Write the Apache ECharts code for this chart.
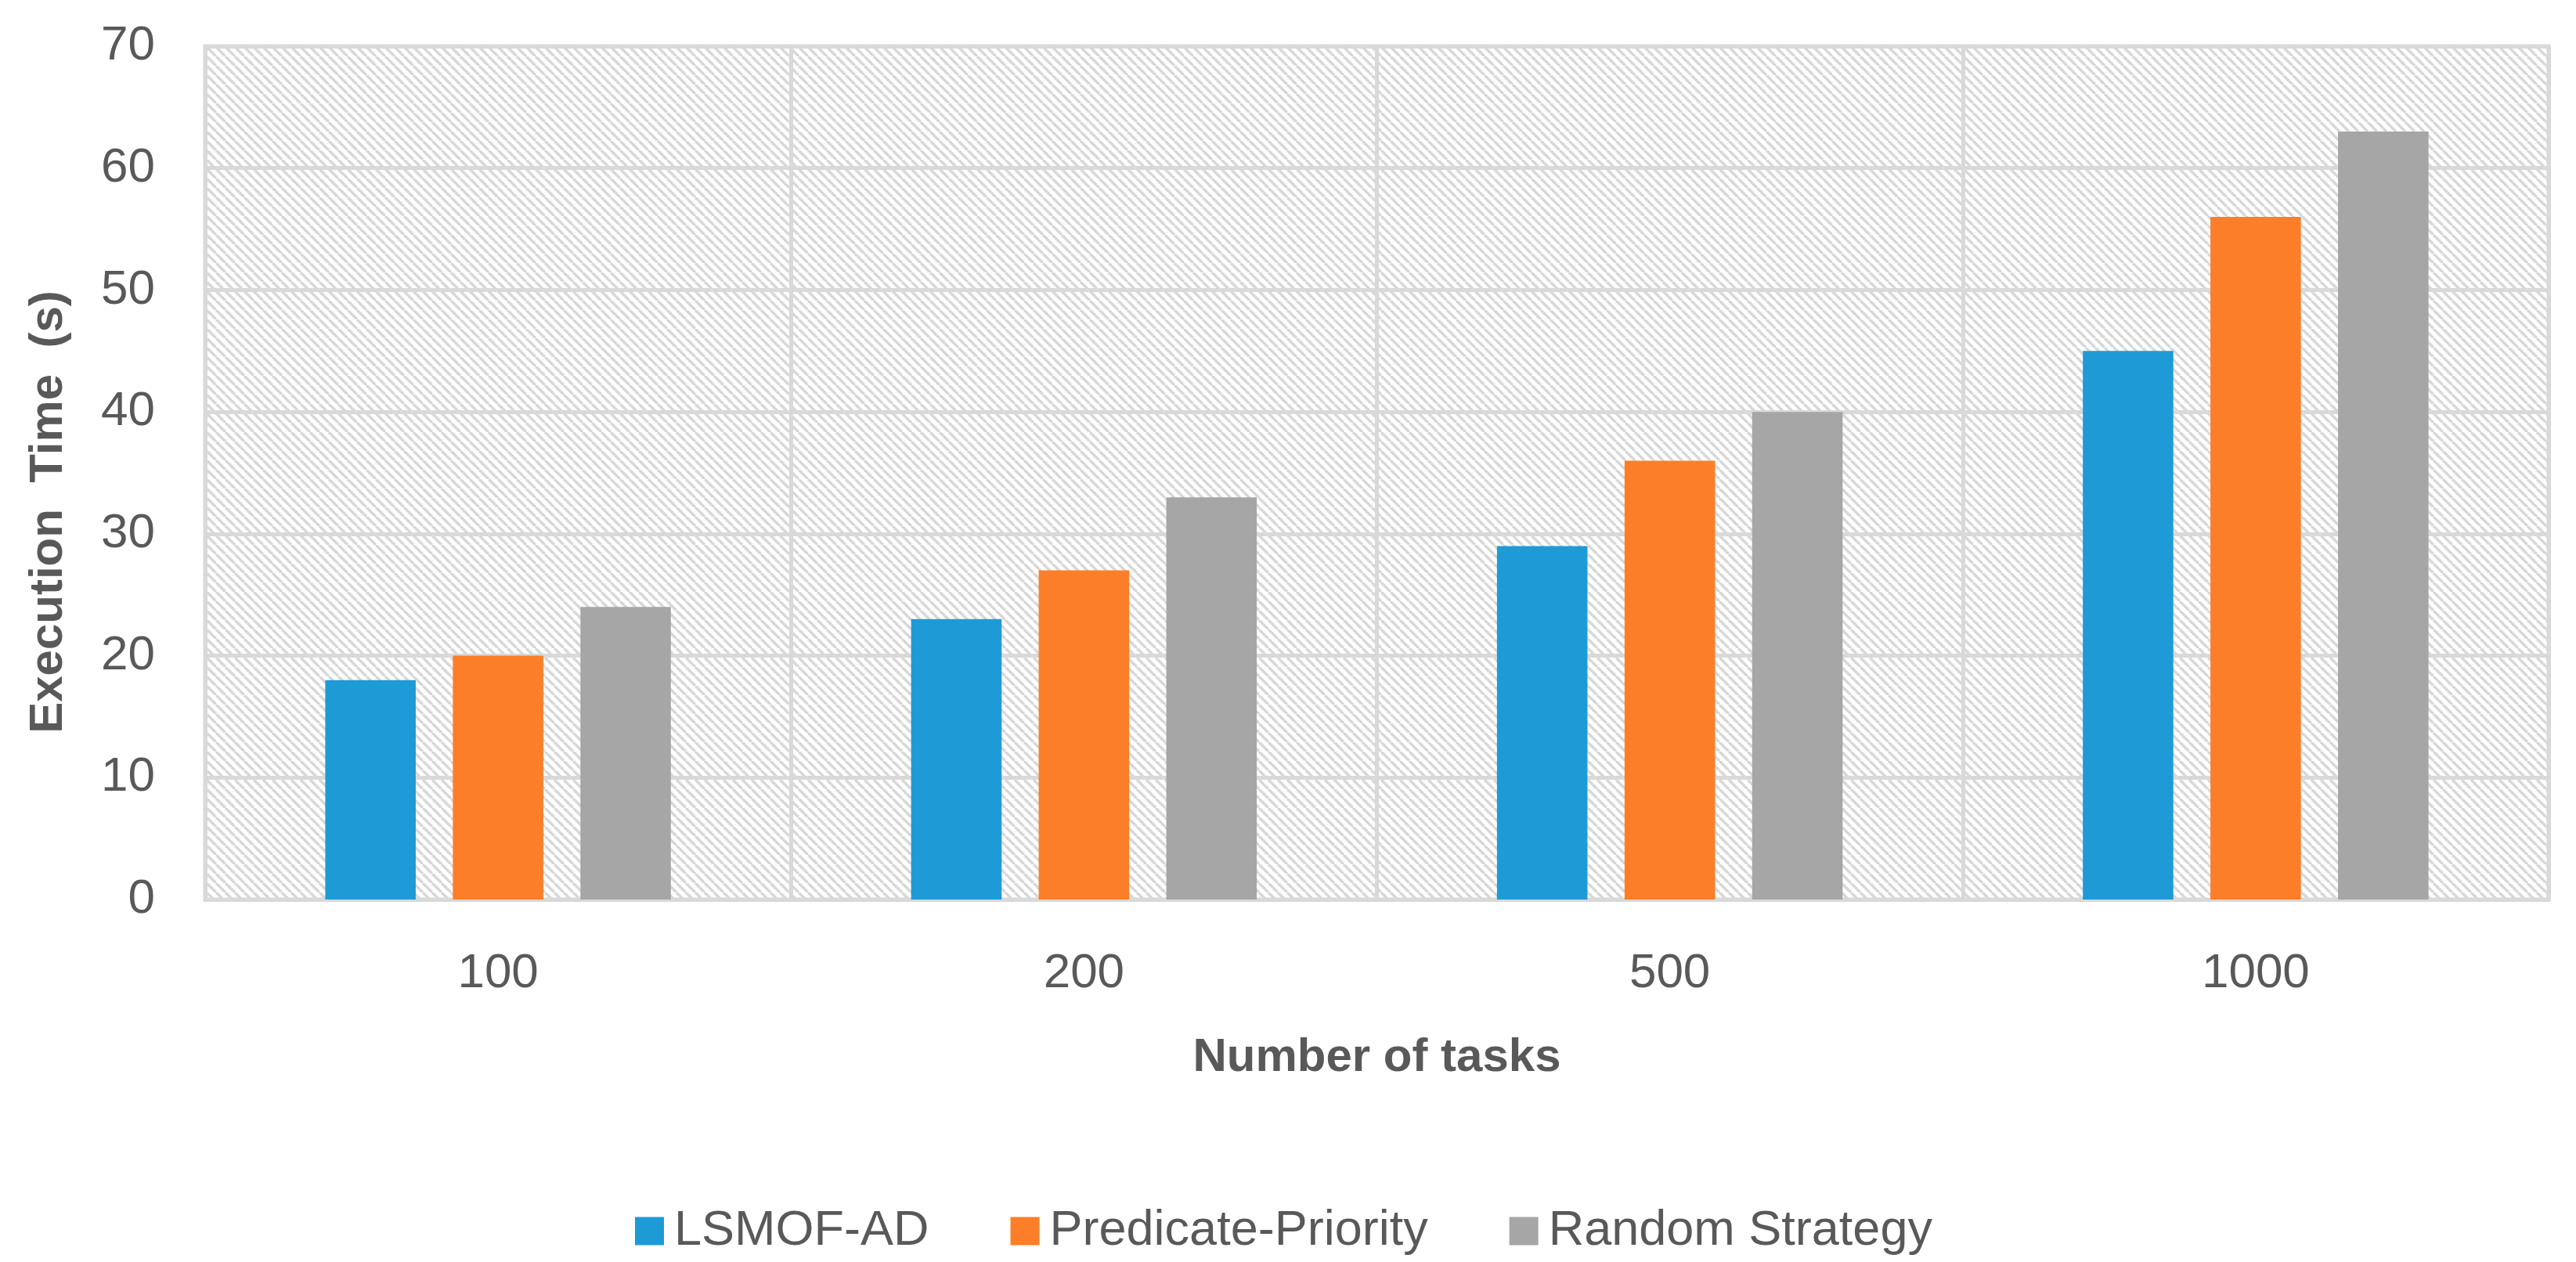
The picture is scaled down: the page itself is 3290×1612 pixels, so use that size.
<!DOCTYPE html>
<html>
<head>
<meta charset="utf-8">
<script src="https://cdn.jsdelivr.net/npm/echarts@6/dist/echarts.min.js"></script>
<style>
html,body{margin:0;padding:0;background:#fff;}
#chart{width:3290px;height:1612px;}
</style>
</head>
<body>
<div id="chart"></div>
<script>
var categories = ['100', '200', '500', '1000'];
var seriesNames = ['LSMOF-AD', 'Predicate-Priority', 'Random Strategy'];
var lsmofAD = [18, 23, 29, 45];
var predicatePriority = [20, 27, 36, 56];
var randomStrategy = [24, 33, 40, 63];
var yTicks = [0, 10, 20, 30, 40, 50, 60, 70];
var colors = ['#1E9BD7', '#FD7E28', '#A6A6A6'];

function makeHatch() {
  var s = 12;
  var c = document.createElement('canvas');
  c.width = s; c.height = s;
  var ctx = c.getContext('2d');
  ctx.fillStyle = '#ffffff';
  ctx.fillRect(0, 0, s, s);
  ctx.strokeStyle = '#D8D8D8';
  ctx.lineWidth = 3.5;
  for (var k = -1; k <= 1; k++) {
    ctx.beginPath();
    ctx.moveTo(k * s, 0);
    ctx.lineTo(k * s + s, s);
    ctx.stroke();
  }
  return c;
}

var FONT = "'Liberation Sans', Arial, sans-serif";
var TXT = '#595959';
var LINE = '#D9D9D9';

var chart = echarts.init(document.getElementById('chart'), null, {renderer: 'canvas'});
var option = {
  animation: false,
  backgroundColor: '#ffffff',
  textStyle: {fontFamily: FONT},
  grid: {
    left: 262, right: 35, top: 59, bottom: 463,
    show: true,
    backgroundColor: {image: makeHatch(), repeat: 'repeat'},
    borderColor: LINE, borderWidth: 5
  },
  legend: {
    data: seriesNames,
    left: 806, top: 1536,
    icon: 'rect',
    itemWidth: 37, itemHeight: 36,
    itemGap: 104,
    textStyle: {fontFamily: FONT, fontSize: 63, color: TXT, padding: [0, 0, 0, 8]}
  },
  xAxis: {
    type: 'category',
    data: categories,
    name: 'Number of tasks',
    nameLocation: 'middle',
    nameGap: 172,
    nameTextStyle: {fontFamily: FONT, fontSize: 60, fontWeight: 'bold', color: TXT},
    axisLine: {show: true, lineStyle: {color: LINE, width: 5}},
    axisTick: {show: false},
    axisLabel: {fontFamily: FONT, fontSize: 62, color: TXT, margin: 64},
    splitLine: {show: true, lineStyle: {color: LINE, width: 5}}
  },
  yAxis: {
    type: 'value',
    min: 0, max: 70, interval: 10,
    name: 'Execution  Time  (s)',
    nameLocation: 'middle',
    nameGap: 170,
    nameTextStyle: {fontFamily: FONT, fontSize: 60, fontWeight: 'bold', color: TXT, padding: [0, 100, 0, 0]},
    axisLine: {show: true, lineStyle: {color: LINE, width: 5}},
    axisTick: {show: false},
    axisLabel: {
      fontFamily: FONT, fontSize: 62, color: TXT, margin: 64,
      formatter: function (v) { return yTicks.indexOf(v) >= 0 ? String(v) : ''; }
    },
    splitLine: {show: true, lineStyle: {color: LINE, width: 5}}
  },
  series: [
    {name: seriesNames[0], type: 'bar', data: lsmofAD, itemStyle: {color: colors[0]}, barGap: '41%', barCategoryGap: '41%'},
    {name: seriesNames[1], type: 'bar', data: predicatePriority, itemStyle: {color: colors[1]}, barGap: '41%', barCategoryGap: '41%'},
    {name: seriesNames[2], type: 'bar', data: randomStrategy, itemStyle: {color: colors[2]}, barGap: '41%', barCategoryGap: '41%'}
  ]
};
chart.setOption(option);
</script>
</body>
</html>
